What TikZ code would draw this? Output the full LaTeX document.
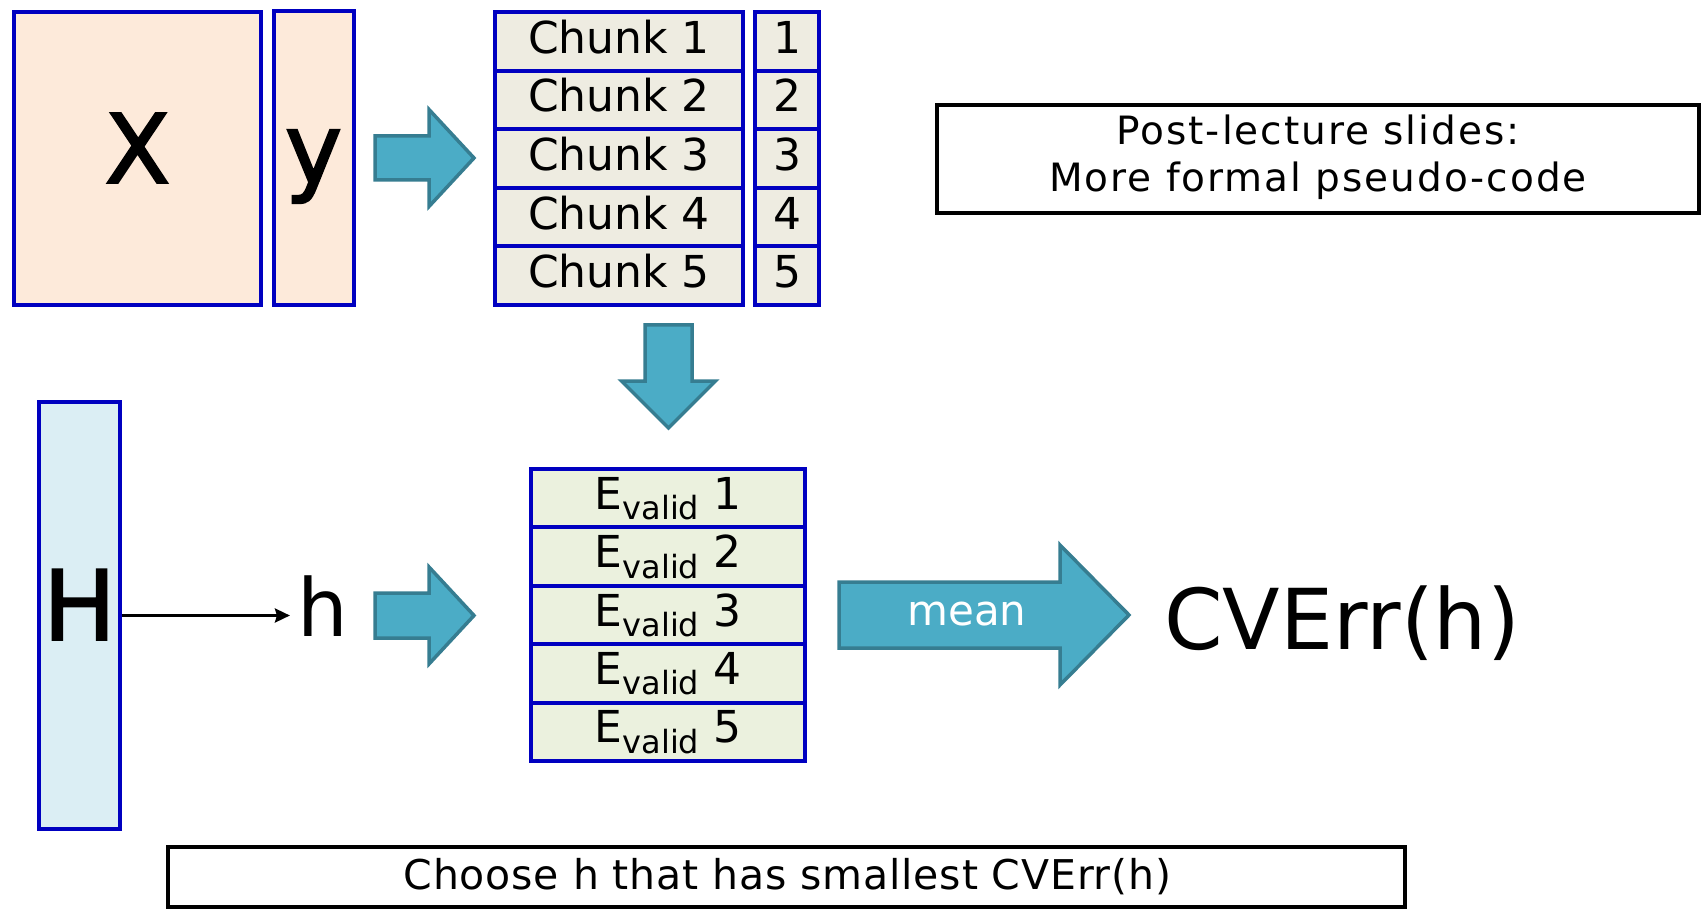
\documentclass[tikz,border=0pt]{standalone}
\usepackage{fontspec}
\setmainfont{DejaVu Sans}
\newfontfamily\heavyfont[FakeBold=2]{DejaVu Sans}
\newfontfamily\spacedfont[LetterSpace=5]{DejaVu Sans}
\newfontfamily\lightspaced[LetterSpace=2]{DejaVu Sans}
\usetikzlibrary{arrows.meta}

\definecolor{edgeblue}{RGB}{0,0,192}
\definecolor{peach}{HTML}{FDEADA}
\definecolor{chunkfill}{HTML}{EEECE1}
\definecolor{errfill}{HTML}{EBF1DE}
\definecolor{hypfill}{HTML}{DBEEF4}
\definecolor{arrowfill}{HTML}{4BACC6}
\definecolor{arrowedge}{RGB}{54,125,145}

\newcommand\fs[1]{\fontsize{#1}{#1}\selectfont}

% right-pointing block arrow: x0, head base x, tip x, centre y, half shaft, half head
\newcommand\rightblock[6]{%
  \draw[blockarrow] (#1,#4-#5) -- (#2,#4-#5) -- (#2,#4-#6) -- (#3,#4)
    -- (#2,#4+#6) -- (#2,#4+#5) -- (#1,#4+#5) -- cycle;}
% down-pointing block arrow: centre x, y0, head base y, tip y, half shaft, half head
\newcommand\downblock[6]{%
  \draw[blockarrow] (#1-#5,#2) -- (#1+#5,#2) -- (#1+#5,#3) -- (#1+#6,#3)
    -- (#1,#4) -- (#1-#6,#3) -- (#1-#5,#3) -- cycle;}

\begin{document}
\begin{tikzpicture}[x=1pt,y=-1pt,
  cell/.style={draw=edgeblue, line width=4pt, inner sep=0pt},
  frame/.style={draw=black, line width=4pt, inner sep=0pt},
  lbl/.style={inner sep=0pt, anchor=base},
  blockarrow/.style={fill=arrowfill, draw=arrowedge, line width=3.5pt},
  conn/.style={line width=3pt, -{Stealth[length=15pt,width=14pt,inset=2pt]}}]

\useasboundingbox (0,0) rectangle (1708,909);

% data matrix and labels
\node[cell, fill=peach, minimum width=247pt, minimum height=293pt] (Xbox) at (137.5,158.5) {};
\node[cell, fill=peach, minimum width=80pt, minimum height=294pt] (ybox) at (314,158) {};
\node[lbl] (Xlab) at (137.5,183) {\heavyfont\fs{96}X};
\node[lbl] (ylab) at (313.5,183) {\heavyfont\fs{97}y};

% split into chunks
\foreach \i in {1,...,5} {
  \pgfmathsetmacro\cy{12+(\i-0.5)*58.6}
  \node[cell, fill=chunkfill, minimum width=248pt, minimum height=58.6pt] (chunk\i) at (619,\cy) {};
  \node[cell, fill=chunkfill, minimum width=64pt, minimum height=58.6pt] (idx\i) at (787,\cy) {};
  \node[lbl] (chunklab\i) at ([yshift=-12pt]chunk\i.center) {\fs{44}Chunk \i};
  \node[lbl] (idxlab\i) at ([yshift=-12pt]idx\i.center) {\fs{44}\i};
}

% validation errors
\foreach \i in {1,...,5} {
  \pgfmathsetmacro\cy{469+(\i-0.5)*58.4}
  \node[cell, fill=errfill, minimum width=274pt, minimum height=58.4pt] (err\i) at (668,\cy) {};
  \node[lbl] (errlab\i) at ([yshift=-11pt]err\i.center)
    {\fs{44}E\raisebox{-10.5pt}{\fs{32}valid}\ \i};
}

% hypothesis set
\node[cell, fill=hypfill, minimum width=81pt, minimum height=427pt] (Hbox) at (79.5,615.5) {};
\node[lbl] (Hlab) at (79.5,640) {\heavyfont\fs{97}H};
\node[lbl] (hlab) at (322.5,636) {\fs{80}h};
\draw[conn, shorten >=7pt] (Hbox.east) -- (Hbox.east -| hlab.west);

% result
\node[lbl] (cverr) at (1342,649) {\fs{84}CVErr(h)};

% block arrows
\rightblock{375}{429}{474}{158}{22}{48.5}
\rightblock{375}{429}{474}{615.5}{22.5}{48.5}
\downblock{668.5}{325}{381}{428}{23.5}{47}
\rightblock{839}{1060}{1129}{615}{33}{70}
\node[lbl, text=white] (meanlab) at (967,625) {\fs{42}mean};

% notes
\node[frame, minimum width=762pt, minimum height=108pt] (note) at (1318,159) {};
\node[lbl] (note1) at (1318,145) {\spacedfont\fs{39}Post-lecture slides:};
\node[lbl] (note2) at (1318,192) {\spacedfont\fs{39}More formal pseudo-code};

\node[frame, minimum width=1237pt, minimum height=60pt] (choose) at (786.5,877) {};
\node[lbl] (chooselab) at (787.5,889) {\lightspaced\fs{41}Choose h that has smallest CVErr(h)};
\end{tikzpicture}
\end{document}
